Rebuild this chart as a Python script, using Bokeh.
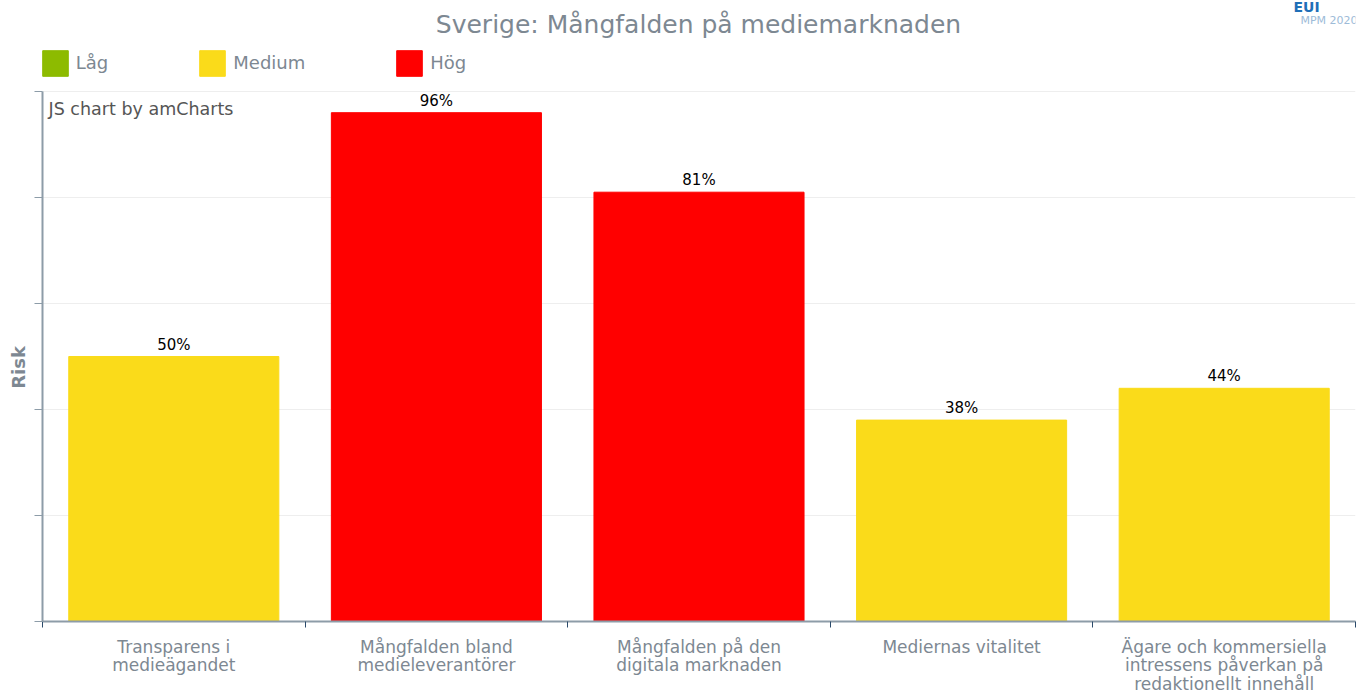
from bokeh.plotting import figure
from bokeh.models import (ColumnDataSource, Range1d, FixedTicker, Label, LabelSet,
                          Legend, LegendItem)
from bokeh.core.properties import value
from bokeh.embed import file_html
from bokeh.resources import INLINE

# ---- data ----
categories = ["Transparens i\nmedieägandet",
              "Mångfalden bland\nmedieleverantörer",
              "Mångfalden på den\ndigitala marknaden",
              "Mediernas vitalitet",
              "Ägare och kommersiella\nintressens påverkan på\nredaktionellt innehåll"]
values = [50, 96, 81, 38, 44]
levels = ["Medium", "Hög", "Hög", "Medium", "Medium"]
level_names = ["Låg", "Medium", "Hög"]
level_colors = {"Låg": "#8DBB00", "Medium": "#FADB1A", "Hög": "#FF0000"}
y_ticks = [0, 20, 40, 60, 80, 100]
title_text = "Sverige: Mångfalden på mediemarknaden"
y_title = "Risk"

FONT = "DejaVu Sans"
GRAY = "#7d8892"

# layout: the frame reaches to the top of the canvas so that title and legend
# (drawn as annotations) are not clipped; axis/grid are bounded to 0..100
FRAME_W, FRAME_H, PLOT_H = 1313, 621, 530
y_max = 100 * FRAME_H / PLOT_H

xs = [i + 0.5 for i in range(len(categories))]
src = ColumnDataSource(dict(
    x=xs, top=values, color=[level_colors[l] for l in levels],
    lab=[f"{v}%" for v in values]))
nan = float("nan")
leg_src = ColumnDataSource(dict(
    x=[nan] * len(level_names), top=[nan] * len(level_names),
    color=[level_colors[l] for l in level_names]))

p = figure(frame_width=FRAME_W, frame_height=FRAME_H, output_backend="svg",
           toolbar_location=None,
           x_range=Range1d(0, len(categories)), y_range=Range1d(0, y_max),
           min_border_left=42, min_border_right=3, min_border_top=0,
           min_border_bottom=72)
p.outline_line_color = None
p.title.visible = False

bars = p.vbar(x="x", top="top", width=0.8, bottom=0, source=src,
              fill_color="color", line_color="color")
leg_r = p.vbar(x="x", top="top", width=0.8, bottom=0, source=leg_src,
               fill_color="color", line_color="color")

p.add_layout(LabelSet(x="x", y="top", text="lab", source=src, y_offset=3,
                      text_align="center", text_baseline="bottom",
                      text_font=value(FONT), text_font_size=value("15px"),
                      text_color="#000000"))

# x axis
p.xaxis.ticker = FixedTicker(ticks=xs, minor_ticks=list(range(len(categories) + 1)))
p.xaxis.major_label_overrides = {x: c for x, c in zip(xs, categories)}
p.xaxis.axis_label = None
p.xaxis.major_tick_out = 0
p.xaxis.major_tick_in = 0
p.xaxis.minor_tick_out = 6
p.xaxis.minor_tick_in = 0
p.xaxis.minor_tick_line_color = "#2b4a6a"
p.xaxis.axis_line_color = "#8d9ca8"
p.xaxis.axis_line_width = 2
p.xaxis.major_label_standoff = 9
p.xaxis.major_label_text_font = FONT
p.xaxis.major_label_text_font_size = "17px"
p.xaxis.major_label_text_line_height = 0.935
p.xaxis.major_label_text_color = GRAY
p.xgrid.visible = False

# y axis (trailing no-break spaces shift the rotated title down to match)
p.yaxis.ticker = FixedTicker(ticks=y_ticks, minor_ticks=[])
p.yaxis.bounds = (0, 100)
p.yaxis.major_label_overrides = {t: "" for t in y_ticks}
p.yaxis.axis_label = y_title + "\u00a0" * 18
p.yaxis.axis_label_standoff = 6
p.yaxis.axis_label_text_font = FONT
p.yaxis.axis_label_text_font_size = "18px"
p.yaxis.axis_label_text_font_style = "bold"
p.yaxis.axis_label_text_color = GRAY
p.yaxis.major_tick_out = 8
p.yaxis.major_tick_in = 0
p.yaxis.major_label_standoff = 0
p.yaxis.major_tick_line_color = "#8d9ca8"
p.yaxis.axis_line_color = "#8d9ca8"
p.yaxis.axis_line_width = 2
p.ygrid.grid_line_color = "#eeeeee"

# texts
p.add_layout(Label(x=656, y=597, x_units="screen", y_units="screen", text=title_text,
                   text_align="center", text_baseline="middle", text_font=FONT,
                   text_font_size="25px", text_color=GRAY))
p.add_layout(Label(x=6, y=513, x_units="screen", y_units="screen",
                   text="JS chart by amCharts", text_align="left",
                   text_baseline="middle", text_font=FONT, text_font_size="17.5px",
                   text_color="#555555"))
p.add_layout(Label(x=1251, y=607, x_units="screen", y_units="screen", text="EUI",
                   text_align="left", text_baseline="bottom", text_font=FONT,
                   text_font_size="14px", text_font_style="bold",
                   text_color="#1f6fb8"))
p.add_layout(Label(x=1258, y=601, x_units="screen", y_units="screen", text="MPM 2020",
                   text_align="left", text_baseline="middle", text_font=FONT,
                   text_font_size="11px", text_color="#9dbbd8"))

# legend
leg_items = [LegendItem(label=name, renderers=[leg_r], index=i)
             for i, name in enumerate(level_names)]
lg = Legend(items=leg_items, location=(-3.2, 542.2), orientation="horizontal",
            glyph_width=32, glyph_height=32, label_standoff=5, spacing=88,
            label_text_font=FONT, label_text_font_size="18px",
            label_text_color=GRAY, padding=0, margin=0,
            border_line_color=None, background_fill_alpha=0,
            click_policy="none")
p.add_layout(lg, "center")

open("out.html", "w").write(file_html(p, INLINE))
